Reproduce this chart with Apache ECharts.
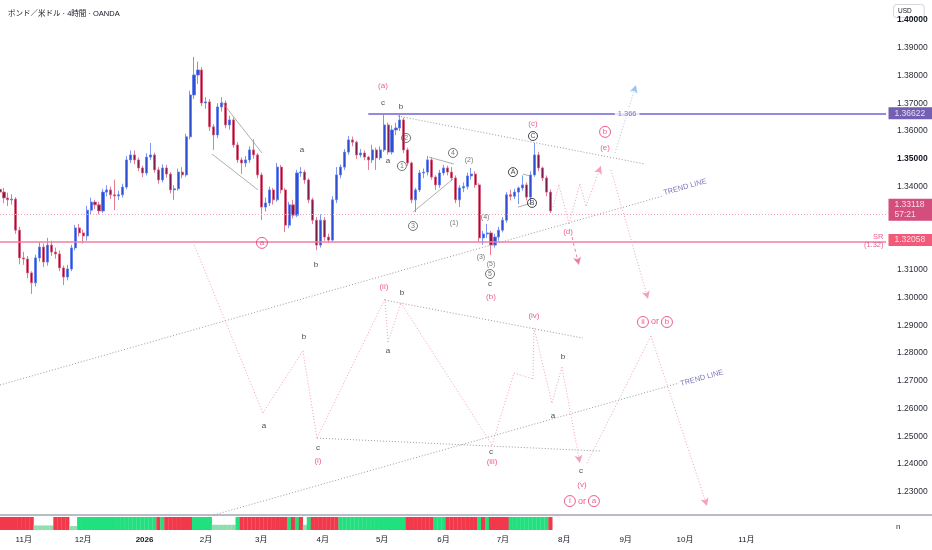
<!DOCTYPE html>
<html>
<head>
<meta charset="utf-8">
<script src="https://cdn.jsdelivr.net/npm/echarts@6/dist/echarts.min.js"></script>
<style>
  html, body { margin: 0; padding: 0; background: #fff; }
  #main { width: 932px; height: 550px; }
</style>
</head>
<body>
<div id="main"></div>
<script>
// GBP/USD (OANDA) – candles, resampled to one per 2 calendar days
// x values are days counted from 2025-10-01
const firstDay = 19;
const stepDays = 2;

// [open, close, low, high]
const candles = [
  [1.3390,1.3380,1.3362,1.3405],[1.3380,1.3359,1.3340,1.3395],[1.3359,1.3352,1.3330,1.3378],[1.3352,1.3355,1.3335,1.3372],
  [1.3355,1.3243,1.3230,1.3362],[1.3243,1.3143,1.3120,1.3255],[1.3143,1.3139,1.3118,1.3165],[1.3139,1.3089,1.3070,1.3150],
  [1.3089,1.3053,1.3013,1.3095],[1.3053,1.3143,1.3040,1.3155],[1.3143,1.3182,1.3130,1.3200],[1.3182,1.3128,1.3110,1.3195],
  [1.3128,1.3189,1.3115,1.3215],[1.3189,1.3164,1.3150,1.3205],[1.3164,1.3157,1.3140,1.3180],[1.3157,1.3107,1.3095,1.3170],
  [1.3107,1.3074,1.3045,1.3115],[1.3074,1.3103,1.3062,1.3118],[1.3103,1.3179,1.3095,1.3190],[1.3179,1.3251,1.3170,1.3262],
  [1.3251,1.3233,1.3220,1.3265],[1.3233,1.3222,1.3195,1.3245],[1.3222,1.3315,1.3205,1.3330],[1.3315,1.3344,1.3300,1.3360],
  [1.3344,1.3334,1.3318,1.3352],[1.3334,1.3312,1.3300,1.3345],[1.3312,1.3380,1.3305,1.3392],[1.3380,1.3388,1.3365,1.3405],
  [1.3388,1.3370,1.3355,1.3400],[1.3370,1.3366,1.3315,1.3425],[1.3366,1.3370,1.3352,1.3385],[1.3370,1.3398,1.3360,1.3410],
  [1.3398,1.3496,1.3390,1.3510],[1.3496,1.3514,1.3485,1.3530],[1.3514,1.3496,1.3480,1.3530],[1.3496,1.3467,1.3455,1.3505],
  [1.3467,1.3449,1.3434,1.3475],[1.3449,1.3506,1.3440,1.3520],[1.3506,1.3514,1.3495,1.3557],[1.3514,1.3460,1.3450,1.3522],
  [1.3460,1.3424,1.3410,1.3470],[1.3424,1.3467,1.3415,1.3480],[1.3467,1.3445,1.3432,1.3478],[1.3445,1.3388,1.3375,1.3452],
  [1.3388,1.3392,1.3352,1.3405],[1.3392,1.3452,1.3385,1.3465],[1.3452,1.3442,1.3430,1.3470],[1.3442,1.3579,1.3435,1.3590],
  [1.3579,1.3730,1.3570,1.3745],[1.3730,1.3802,1.3715,1.3867],[1.3802,1.3820,1.3770,1.3850],[1.3820,1.3701,1.3690,1.3830],
  [1.3701,1.3705,1.3680,1.3722],[1.3705,1.3615,1.3600,1.3715],[1.3615,1.3586,1.3532,1.3625],[1.3586,1.3687,1.3575,1.3700],
  [1.3687,1.3701,1.3670,1.3722],[1.3701,1.3622,1.3610,1.3710],[1.3622,1.3640,1.3605,1.3655],[1.3640,1.3550,1.3540,1.3648],
  [1.3550,1.3496,1.3485,1.3560],[1.3496,1.3485,1.3445,1.3505],[1.3485,1.3496,1.3470,1.3510],[1.3496,1.3532,1.3485,1.3545],
  [1.3532,1.3514,1.3500,1.3570],[1.3514,1.3442,1.3430,1.3520],[1.3442,1.3326,1.3279,1.3450],[1.3326,1.3341,1.3310,1.3360],
  [1.3341,1.3388,1.3330,1.3400],[1.3388,1.3352,1.3335,1.3395],[1.3352,1.3470,1.3345,1.3485],[1.3470,1.3388,1.3375,1.3478],
  [1.3388,1.3261,1.3236,1.3395],[1.3261,1.3334,1.3250,1.3345],[1.3334,1.3297,1.3285,1.3352],[1.3297,1.3449,1.3290,1.3460],
  [1.3449,1.3452,1.3435,1.3470],[1.3452,1.3424,1.3410,1.3460],[1.3424,1.3352,1.3340,1.3430],[1.3352,1.3279,1.3265,1.3360],
  [1.3279,1.3189,1.3171,1.3290],[1.3189,1.3279,1.3180,1.3300],[1.3279,1.3218,1.3205,1.3290],[1.3218,1.3207,1.3197,1.3230],
  [1.3207,1.3352,1.3200,1.3365],[1.3352,1.3442,1.3340,1.3470],[1.3442,1.3470,1.3430,1.3480],[1.3470,1.3524,1.3460,1.3535],
  [1.3524,1.3568,1.3515,1.3582],[1.3568,1.3560,1.3545,1.3580],[1.3560,1.3514,1.3500,1.3565],[1.3514,1.3521,1.3505,1.3535],
  [1.3521,1.3506,1.3495,1.3530],[1.3506,1.3496,1.3460,1.3510],[1.3496,1.3532,1.3485,1.3550],[1.3532,1.3503,1.3460,1.3540],
  [1.3503,1.3532,1.3495,1.3545],[1.3532,1.3622,1.3525,1.3658],[1.3622,1.3524,1.3515,1.3630],[1.3524,1.3604,1.3515,1.3620],
  [1.3604,1.3611,1.3585,1.3630],[1.3611,1.3640,1.3600,1.3658],[1.3640,1.3532,1.3520,1.3648],[1.3532,1.3485,1.3475,1.3540],
  [1.3485,1.3352,1.3340,1.3490],[1.3352,1.3388,1.3308,1.3395],[1.3388,1.3449,1.3380,1.3460],[1.3449,1.3452,1.3430,1.3465],
  [1.3452,1.3496,1.3440,1.3510],[1.3496,1.3434,1.3425,1.3505],[1.3434,1.3406,1.3388,1.3440],[1.3406,1.3449,1.3395,1.3460],
  [1.3449,1.3467,1.3440,1.3478],[1.3467,1.3452,1.3440,1.3475],[1.3452,1.3431,1.3420,1.3470],[1.3431,1.3352,1.3340,1.3440],
  [1.3352,1.3395,1.3326,1.3405],[1.3395,1.3400,1.3380,1.3415],[1.3400,1.3438,1.3390,1.3450],[1.3438,1.3445,1.3425,1.3467],
  [1.3445,1.3406,1.3395,1.3455],[1.3406,1.3215,1.3200,1.3412],[1.3215,1.3229,1.3190,1.3240],[1.3229,1.3233,1.3215,1.3265],
  [1.3233,1.3189,1.3153,1.3240],[1.3189,1.3218,1.3180,1.3230],[1.3218,1.3243,1.3205,1.3255],[1.3243,1.3279,1.3235,1.3290],
  [1.3279,1.3370,1.3270,1.3380],[1.3370,1.3365,1.3350,1.3388],[1.3365,1.3380,1.3355,1.3392],[1.3380,1.3395,1.3337,1.3400],
  [1.3395,1.3406,1.3385,1.3440],[1.3406,1.3362,1.3350,1.3415],[1.3362,1.3442,1.3345,1.3455],[1.3442,1.3514,1.3435,1.3557],
  [1.3514,1.3467,1.3455,1.3525],[1.3467,1.3431,1.3420,1.3472],[1.3431,1.3380,1.3365,1.3440],[1.3380,1.3312,1.3305,1.3390]
];

// volume pane: relative height and colour (g = green, r = red) per candle
const volLevel = [
  1,1,1,1,1,1,1,1,1,.35, .35,.35,.35,.35,1,1,1,1,.3,.3,
  1,1,1,1,1,1,1,1,1,1, 1,1,1,1,1,1,1,1,1,1,
  1,1,1,1,1,1,1,1,1,1, 1,1,1,1,.4,.4,.4,.4,.4,.4,
  1,1,1,1,1,1,1,1,1,1, 1,1,1,1,1,1,1,.4,1,1,
  1,1,1,1,1,1,1,1,1,1, 1,1,1,1,1,1,1,1,1,1,
  1,1,1,1,1,1,1,1,1,1, 1,1,1,1,1,1,1,1,1,1,
  1,1,1,1,1,1,1,1,1,1, 1,1,1,1,1,1,1,1,1,1
];
const volTone = 'rrrrrrrrrgggggrrrrgg' + 'gggggggggggggggggggg' + 'rgrrrrrrrgggggggggggg'
  + 'rrrrrrrrrrrrgrgrgg' + 'rrrrrrrggggggggggggggggg' + 'rrrrrrrggg' + 'rrrrrrrrgrgrrrrr' + 'ggggggggggrr';

const monthDays = [31, 61, 92, 123, 151, 182, 212, 243, 273, 304, 335, 365, 396];
const monthLabels = ['11月', '12月', '2026', '2月', '3月', '4月', '5月', '6月', '7月', '8月', '9月', '10月', '11月'];
// 1.32 and 1.33 sit under the price badges, so they are not printed
const priceTicks = [1.23, 1.24, 1.25, 1.26, 1.27, 1.28, 1.29, 1.30, 1.31, 1.34, 1.35, 1.36, 1.37, 1.38, 1.39, 1.40];

const lastPrice = 1.33118;
const srLevel = 1.32058;
const targetLevel = 1.36622;

// drawn trend lines [day, price]
const trendUpper = [[19, 1.2685], [353.8, 1.3366]];
const trendLower = [[127.1, 1.2217], [361.9, 1.2692]];
const triTop = [[220, 1.3654], [344.8, 1.3481]];
const lineWaveI = [[179.1, 1.2494], [322.5, 1.2447]];
const lineWaveII = [[213.4, 1.2991], [313.4, 1.2854]];
const chanTop = [[131.1, 1.3705], [151.3, 1.3521]];
const chanBottom = [[126.1, 1.3517], [149.3, 1.3388]];
const tri34Low = [[227.6, 1.3308], [247.8, 1.3427]];
const tri34High = [[235.7, 1.3506], [248.3, 1.3481]];
const abLow = [[280.6, 1.3326], [287.7, 1.3341]];
const abHigh = [[283.1, 1.3445], [286.7, 1.3438]];

// projected paths
const projMain = [[116.5, 1.3200], [151.8, 1.2584], [172.0, 1.2808], [179.1, 1.2494], [213.4, 1.2995], [215.0, 1.2840],
  [221.5, 1.2981], [267.5, 1.2469], [278.6, 1.2728], [288.2, 1.2707], [288.7, 1.2890], [297.8, 1.2620], [302.8, 1.2750], [311.9, 1.2404]];
const projNext = [[315.5, 1.2404], [347.8, 1.2862], [376.1, 1.2249]];
const projTriangle = [[298.3, 1.3326], [301.3, 1.3406], [306.4, 1.3265], [311.9, 1.3409], [315.0, 1.3330], [322.5, 1.3474]];
const projDrop = [[327.6, 1.3460], [346.3, 1.2995]];
const projAltD = [[307.9, 1.3218], [311.4, 1.3117]];
const projBreak = [[329.6, 1.3521], [340.2, 1.3766]];

// wave counts [day, price, text, style]
const waveLabels = [
  [212.4, 1.3762, '(a)', 'p'], [212.4, 1.3701, 'c', 'k'], [221.5, 1.3687, 'b', 'k'],
  [288.2, 1.3625, '(c)', 'p'], [288.2, 1.3582, '{ck|C}', 'k'],
  [324.6, 1.3597, '{cp|b}', 'p'], [324.6, 1.3539, '(e)', 'p'],
  [171.5, 1.3532, 'a', 'k'], [215.0, 1.3492, 'a', 'k'],
  [224.1, 1.3575, '{cg|2}', 'g'], [222.0, 1.3474, '{cg|1}', 'g'], [247.8, 1.3521, '{cg|4}', 'g'],
  [255.9, 1.3496, '(2)', 'g'], [227.6, 1.3258, '{cg|3}', 'g'], [248.3, 1.3269, '(1)', 'g'],
  [278.1, 1.3452, '{ck|A}', 'k'], [287.7, 1.3341, '{ck|B}', 'k'],
  [264.0, 1.3290, '(4)', 'g'], [261.9, 1.3146, '(3)', 'g'], [267.0, 1.3121, '(5)', 'g'],
  [266.5, 1.3085, '{cg|5}', 'g'], [266.5, 1.3049, 'c', 'k'], [267.0, 1.3002, '(b)', 'p'],
  [151.3, 1.3197, '{cp|a}', 'p'], [178.6, 1.3117, 'b', 'k'], [305.9, 1.3236, '(d)', 'p'],
  [212.9, 1.3038, '(ii)', 'p'], [222.0, 1.3017, 'b', 'k'],
  [172.5, 1.2858, 'b', 'k'], [215.0, 1.2808, 'a', 'k'], [152.3, 1.2537, 'a', 'k'],
  [179.6, 1.2458, 'c', 'k'], [179.6, 1.2411, '(i)', 'p'],
  [288.7, 1.2934, '(iv)', 'p'], [303.3, 1.2786, 'b', 'k'], [298.3, 1.2573, 'a', 'k'],
  [267.0, 1.2444, 'c', 'k'], [267.5, 1.2408, '(iii)', 'p'],
  [312.4, 1.2375, 'c', 'k'], [312.9, 1.2325, '(v)', 'p'],
  [312.9, 1.2267, '{cpl|i} or {cpl|a}', 'pl'], [349.8, 1.2912, '{cpl|ii} or {cpl|b}', 'pl']
];
const trendLabels = [[365.0, 1.3398], [373.5, 1.2710]];

const xMin = 19, xMax = 466.5;
const yMin = 1.22168, yMax = 1.4072;

const PINK = '#e8356d';
const FONT = "'Liberation Sans', 'Noto Sans CJK JP', sans-serif";

const pinkDot = { color: '#f3a0bb', width: 1, type: [1, 2] };
const grayDot = { color: '#9a9a9a', width: 1, type: [1, 2] };
const graySolid = { color: '#9a9a9a', width: 0.8, type: 'solid' };

function polyline(points, lineStyle, arrow) {
  const out = [];
  for (let i = 1; i < points.length; i++) {
    const end = arrow && i === points.length - 1;
    out.push([
      { coord: points[i - 1], symbol: 'none' },
      { coord: points[i], symbol: end ? 'arrow' : 'none', symbolSize: end ? [6, 8] : 1, lineStyle: lineStyle }
    ]);
  }
  return out;
}

const markLines = [
  { yAxis: lastPrice, lineStyle: { color: '#f4a3b8', width: 1, type: [1, 2] } },
  { yAxis: srLevel, lineStyle: { color: '#f27ea3', width: 1.5, type: 'solid' } },
  [
    { coord: [205, targetLevel], symbol: 'none' },
    { coord: [xMax, targetLevel], symbol: 'none', lineStyle: { color: '#9488e0', width: 2, type: 'solid' } }
  ]
]
  .concat(polyline(trendUpper, grayDot))
  .concat(polyline(trendLower, grayDot))
  .concat(polyline(triTop, grayDot))
  .concat(polyline(lineWaveI, grayDot))
  .concat(polyline(lineWaveII, grayDot))
  .concat(polyline(chanTop, graySolid))
  .concat(polyline(chanBottom, graySolid))
  .concat(polyline(tri34Low, graySolid))
  .concat(polyline(tri34High, graySolid))
  .concat(polyline(abLow, graySolid))
  .concat(polyline(abHigh, graySolid))
  .concat(polyline(projMain, pinkDot, true))
  .concat(polyline(projNext, pinkDot, true))
  .concat(polyline(projTriangle, pinkDot, true))
  .concat(polyline(projDrop, pinkDot, true))
  .concat(polyline(projAltD, { color: '#ee7fa2', width: 1, type: [3, 3] }, true))
  .concat(polyline(projBreak, { color: '#9cc4f5', width: 1, type: [1, 2] }, true));

const candleData = candles.map((c, i) => [firstDay + i * stepDays, c[0], c[1], c[2], c[3]]);
const volData = volLevel.map((v, i) => ({
  value: [firstDay + i * stepDays, v],
  itemStyle: { color: volTone[i] === 'g' ? (v < 1 ? '#8fdcae' : '#21e07e') : '#f2394c' }
}));

const labelColor = { k: '#131722', p: PINK, g: '#555', pl: PINK };
const labelSize = { k: 8, p: 8, g: 7, pl: 9 };
const rich = {
  ck: { color: '#131722', borderColor: '#131722', borderWidth: 1, borderRadius: 5, width: 9, height: 9, lineHeight: 9, align: 'center', fontSize: 7 },
  cg: { color: '#555', borderColor: '#555', borderWidth: 1, borderRadius: 5, width: 9, height: 9, lineHeight: 9, align: 'center', fontSize: 7 },
  cp: { color: PINK, borderColor: PINK, borderWidth: 1, borderRadius: 6, width: 11, height: 11, lineHeight: 11, align: 'center', fontSize: 8 },
  cpl: { color: PINK, borderColor: PINK, borderWidth: 1, borderRadius: 6, width: 11, height: 11, lineHeight: 11, align: 'center', fontSize: 8 }
};

// price badges sitting on the right-hand scale
const tag = (price, text, bg) => ({
  value: [xMax, price],
  label: { show: true, position: [3, 0], align: 'left', verticalAlign: 'middle', formatter: text,
    backgroundColor: bg, color: '#fff', fontSize: 8.5, lineHeight: 10, width: 36, padding: [1, 3, 1, 6] }
});

const chart = echarts.init(document.getElementById('main'));
chart.setOption({
  animation: false,
  backgroundColor: '#fff',
  textStyle: { fontFamily: FONT },
  title: {
    text: 'ポンド／米ドル · 4時間 · OANDA',
    left: 3, top: 5,
    textStyle: { fontSize: 7.5, fontWeight: 'normal', color: '#131722', fontFamily: FONT }
  },
  graphic: [
    { type: 'text', left: 893, top: 4, style: { text: 'USD', fontSize: 6.5, fill: '#131722', backgroundColor: '#fff',
      borderColor: '#d6d8de', borderWidth: 1, borderRadius: 3, padding: [3, 12, 2, 4] } },
    { type: 'text', left: 896, top: 523, style: { text: 'n', fontSize: 8, fill: '#333' } },
    { type: 'line', shape: { x1: 886, y1: 515, x2: 932, y2: 515 }, style: { stroke: '#b9bcc4', lineWidth: 2 } }
  ],
  grid: [
    { left: 0, right: 46, top: 0, bottom: 35, containLabel: false, outerBoundsMode: 'none' },
    { left: 0, right: 46, top: 517, height: 13, containLabel: false, outerBoundsMode: 'none' }
  ],
  xAxis: [
    { type: 'value', gridIndex: 0, min: xMin, max: xMax,
      axisLine: { show: true, onZero: false, lineStyle: { color: '#b9bcc4', width: 2 } },
      axisTick: { show: false }, axisLabel: { show: false }, splitLine: { show: false } },
    { type: 'value', gridIndex: 1, min: xMin, max: xMax,
      axisLine: { show: false }, axisTick: { show: false }, splitLine: { show: false },
      axisLabel: {
        customValues: monthDays, margin: 6, fontSize: 8, color: '#131722',
        formatter: v => {
          const t = monthLabels[monthDays.indexOf(v)];
          return t === '2026' ? '{b|2026}' : t;
        },
        rich: { b: { fontWeight: 'bold', fontSize: 8, color: '#131722' } }
      } }
  ],
  yAxis: [
    { type: 'value', gridIndex: 0, position: 'right', min: yMin, max: yMax,
      axisLine: { show: false }, axisTick: { show: false }, splitLine: { show: false },
      axisLabel: {
        customValues: priceTicks, margin: 11, fontSize: 8.5, color: '#2a2e39',
        formatter: v => (Math.abs(v - 1.35) < 1e-6 || Math.abs(v - 1.40) < 1e-6) ? '{b|' + v.toFixed(5) + '}' : v.toFixed(5),
        rich: { b: { fontWeight: 'bold', fontSize: 8.5, color: '#131722' } }
      } },
    { type: 'value', gridIndex: 1, min: 0, max: 1, show: false }
  ],
  series: [
    {
      type: 'candlestick', xAxisIndex: 0, yAxisIndex: 0,
      data: candleData, encode: { x: 0, y: [1, 2, 3, 4] },
      barWidth: 2.6,
      itemStyle: { color: '#2f4fd0', color0: '#7a1c4e', borderColor: '#5b7cf0', borderColor0: '#e05a78', borderWidth: 0.8 },
      markLine: { silent: true, symbol: ['none', 'none'], label: { show: false }, animation: false, data: markLines }
    },
    {
      type: 'bar', xAxisIndex: 1, yAxisIndex: 1, data: volData, barWidth: 4.2, silent: true
    },
    {
      type: 'scatter', xAxisIndex: 0, yAxisIndex: 0, clip: false, silent: true, z: 10,
      symbolSize: 1, itemStyle: { color: 'rgba(0,0,0,0)' },
      data: waveLabels.map(w => ({
        value: [w[0], w[1]],
        label: { show: true, position: 'inside', formatter: w[2], color: labelColor[w[3]], fontSize: labelSize[w[3]], rich: rich }
      })).concat([{
        value: [(205 + xMax) / 2, targetLevel],
        label: { show: true, position: 'inside', formatter: '1.366', color: '#5b57a8', fontSize: 7.5,
          backgroundColor: '#fff', padding: [1, 3] }
      }])
    },
    {
      type: 'scatter', xAxisIndex: 0, yAxisIndex: 0, clip: false, silent: true, z: 10,
      symbolSize: 1, itemStyle: { color: 'rgba(0,0,0,0)' },
      data: trendLabels.map(t => ({
        value: t,
        label: { show: true, position: 'inside', formatter: 'TREND LINE', color: '#5b57a8', fontSize: 7.5, rotate: 15.7 }
      }))
    },
    {
      type: 'scatter', xAxisIndex: 0, yAxisIndex: 0, clip: false, silent: true, z: 10,
      symbolSize: 1, itemStyle: { color: 'rgba(0,0,0,0)' },
      data: [
        tag(targetLevel, targetLevel.toFixed(5), '#51389f'),
        tag(lastPrice + 0.0003, lastPrice.toFixed(5) + '\n57:21', '#c8215d'),
        tag(srLevel, srLevel.toFixed(5), '#ef3158'),
        { value: [xMax, srLevel], label: { show: true, position: 'left', distance: 2, formatter: 'SR\n(1.32)',
          color: PINK, fontSize: 7.5, lineHeight: 8, align: 'right' } }
      ]
    }
  ]
});
</script>
</body>
</html>
